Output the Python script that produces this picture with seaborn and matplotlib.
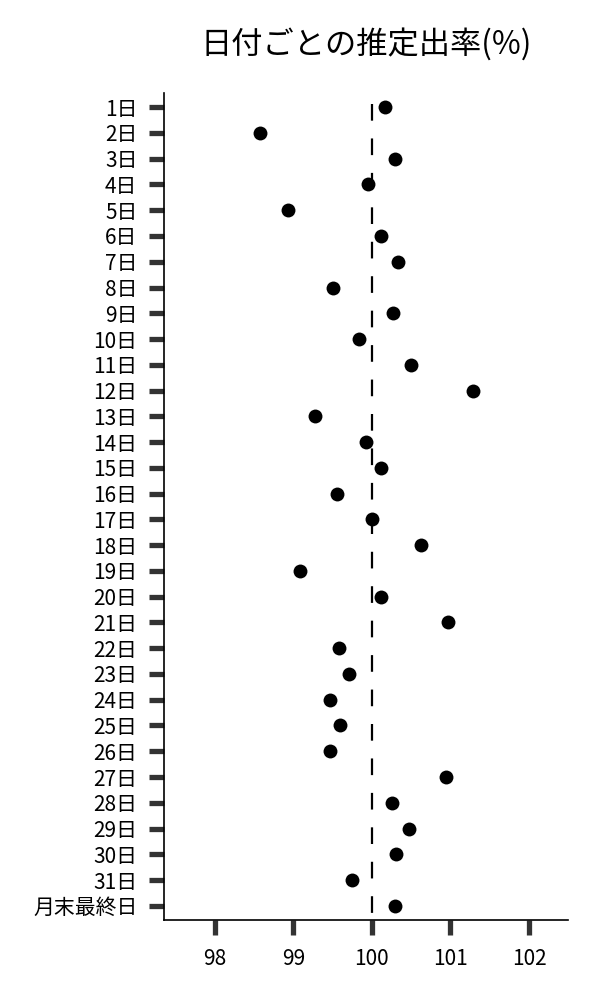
import matplotlib
matplotlib.use("Agg")
import matplotlib.pyplot as plt
import seaborn as sns
import pandas as pd

days = [f"{i}日" for i in range(1, 32)] + ["月末最終日"]
rates = [
    100.17, 98.57, 100.30, 99.95, 98.93, 100.12, 100.33, 99.51,
    100.27, 99.83, 100.50, 101.29, 99.27, 99.92, 100.11, 99.55,
    100.00, 100.62, 99.08, 100.11, 100.97, 99.58, 99.71, 99.47,
    99.60, 99.47, 100.95, 100.25, 100.47, 100.31, 99.75, 100.30,
]
x_ticks = [98, 99, 100, 101, 102]
title = "日付ごとの推定出率(%)"

sns.set_theme(style="white")
plt.rcParams["font.family"] = ["Noto Sans CJK JP", "DejaVu Sans"]

df = pd.DataFrame({"day": days, "rate": rates})

fig = plt.figure(figsize=(6, 10), dpi=100)
ax = fig.add_axes([0.273, 0.08, 0.674, 0.827])

sns.stripplot(data=df, x="rate", y="day", order=days, jitter=False,
              color="black", size=10, linewidth=0, ax=ax)

# reference line at 100%
ax.plot([100, 100], [-0.12, len(days) - 0.45], color="black",
        linewidth=1.6, dashes=(7.5, 8), zorder=1)

ax.set_xlim(97.35, 102.5)
ax.set_ylim(len(days) - 0.45, -0.55)
ax.set_xticks(x_ticks)
ax.set_xlabel("")
ax.set_ylabel("")

for side in ["top", "right"]:
    ax.spines[side].set_visible(False)
for side in ["left", "bottom"]:
    ax.spines[side].set_color("black")
    ax.spines[side].set_linewidth(1.2)

ax.tick_params(axis="both", which="major", direction="out", length=11,
               width=3.8, color="#333333", labelsize=15, labelcolor="black",
               bottom=True, left=True)
ax.tick_params(axis="y", pad=8)
ax.tick_params(axis="x", pad=9)

ax.set_title(title, fontsize=22.5, pad=28, color="black")

fig.savefig("out.png", dpi=100)
